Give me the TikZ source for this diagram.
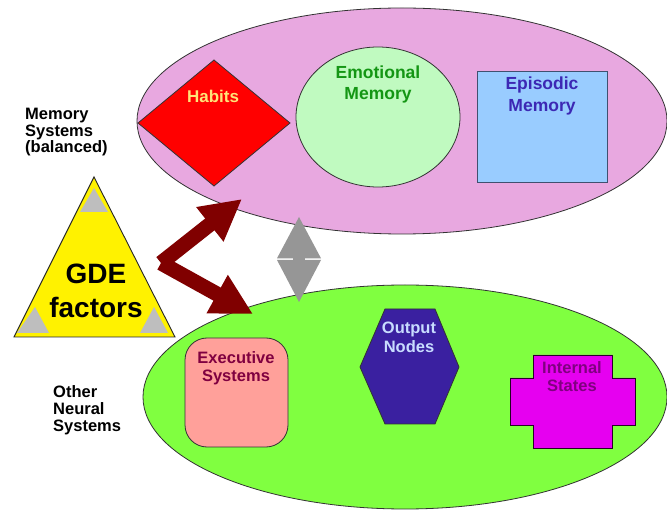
\documentclass[tikz,border=0pt]{standalone}
\usepackage{fontspec}
\setmainfont{Liberation Sans}
\usetikzlibrary{arrows.meta}
\definecolor{pinkfill}{RGB}{232,168,224}
\definecolor{greenfill}{RGB}{128,255,64}
\definecolor{emofill}{RGB}{192,250,192}
\definecolor{epifill}{RGB}{153,204,255}
\definecolor{epiedge}{RGB}{64,80,112}
\definecolor{execfill}{RGB}{255,160,154}
\definecolor{outfill}{RGB}{58,32,160}
\definecolor{intfill}{RGB}{230,0,240}
\definecolor{arrowred}{RGB}{128,0,0}
\definecolor{grayarrow}{RGB}{150,150,150}
\definecolor{graycorner}{RGB}{190,190,190}
\definecolor{habtext}{RGB}{255,228,120}
\definecolor{emotext}{RGB}{20,150,20}
\definecolor{epitext}{RGB}{60,40,180}
\definecolor{exectext}{RGB}{128,0,64}
\definecolor{outtext}{RGB}{200,220,255}
\definecolor{inttext}{RGB}{128,0,128}
\begin{document}
\begin{tikzpicture}[x=1pt,y=-1pt,
  outline/.style={draw=black!80, line width=0.8pt},
  lbl/.style={font=\bfseries\fontsize{17}{19}\selectfont, align=center, anchor=north, inner sep=0pt},
  side/.style={font=\bfseries\fontsize{16.5}{16.7}\selectfont, align=left, anchor=north west, inner sep=0pt},
  fatarrow/.style={draw=arrowred, line width=15pt, line cap=butt, -{Triangle[length=41pt,width=41pt]}}]
\useasboundingbox (0,0) rectangle (667,510);
\fill[white] (0,0) rectangle (667,510);

% big groups
\draw[outline, fill=pinkfill] (402,121) ellipse [x radius=265pt, y radius=113pt];
\coordinate (memsys) at (402,121);
\draw[outline, fill=greenfill] (405,397) ellipse [x radius=262pt, y radius=112pt];
\coordinate (neural) at (405,397);

% memory systems
\draw[outline, fill=red] (138,123) -- (214,60) -- (290,123) -- (214,186) -- cycle;
\draw[outline, fill=emofill] (378,117) ellipse [x radius=82pt, y radius=70pt];
\draw[draw=epiedge, line width=0.8pt, fill=epifill] (477,71) rectangle (607,182);

\node[lbl, text=habtext] (habits) at (213,90) {Habits};
\node[lbl, text=emotext, font=\bfseries\fontsize{17.5}{21}\selectfont] (emotional) at (378,65.5) {Emotional\\Memory};
\node[lbl, text=epitext, font=\bfseries\fontsize{17.5}{22}\selectfont] (episodic) at (542,76.5) {Episodic\\Memory};

% other neural systems
\draw[outline, fill=execfill, rounded corners=22pt] (185,338) rectangle (288,447);
\draw[outline, fill=outfill] (360,367) -- (385,309) -- (435,309) -- (459,367) -- (435,424) -- (385,424) -- cycle;
\draw[draw=black!70!inttext, line width=0.8pt, fill=intfill] (533,355) -- (612,355) -- (612,378) -- (635,378) -- (635,425) -- (612,425) -- (612,448) -- (533,448) -- (533,425) -- (510,425) -- (510,378) -- (533,378) -- cycle;

\node[lbl, text=exectext, font=\bfseries\fontsize{16.5}{17.6}\selectfont] (executive) at (236,351.5) {Executive\\Systems};
\node[lbl, text=outtext, font=\bfseries\fontsize{16.5}{19.3}\selectfont] (output) at (409,321.5) {Output\\Nodes};
\node[lbl, text=inttext, font=\bfseries\fontsize{16.5}{17.6}\selectfont] (internal) at (572,361.5) {Internal\\States};

% side labels
\node[side] (memlbl) at (25,108) {Memory\\Systems\\(balanced)};
\node[side] (othlbl) at (53,385.5) {Other\\Neural\\Systems};

% GDE triangle
\draw[draw=black!85, line width=0.9pt, fill=yellow] (94,177) -- (175,337) -- (14,337) -- cycle;
\fill[graycorner] (94,188) -- (108,212) -- (80,212) -- cycle;
\fill[graycorner] (35,307) -- (49,333) -- (17,333) -- cycle;
\fill[graycorner] (154,307) -- (168,333) -- (140,333) -- cycle;
\node[font=\bfseries\fontsize{28}{33.5}\selectfont, align=center, anchor=north, inner sep=0pt] (gde) at (96,264) {GDE\\factors};

% fat dark red arrows
\coordinate (v) at (161,263);
\coordinate (tipmem) at (242,199);
\coordinate (tipneu) at (253,314);
\draw[fatarrow] (v) -- (tipneu);
\draw[fatarrow] (v) -- (tipmem);

% gray double arrow between groups
\coordinate (gtop) at (299,217);
\coordinate (gbot) at (299,302);
\fill[grayarrow] (gtop) -- (321,258.3) -- (277,258.3) -- cycle;
\fill[grayarrow] (gbot) -- (321,260) -- (277,260) -- cycle;
\fill[grayarrow] (293,258) rectangle (305,260.3);
\end{tikzpicture}
\end{document}
